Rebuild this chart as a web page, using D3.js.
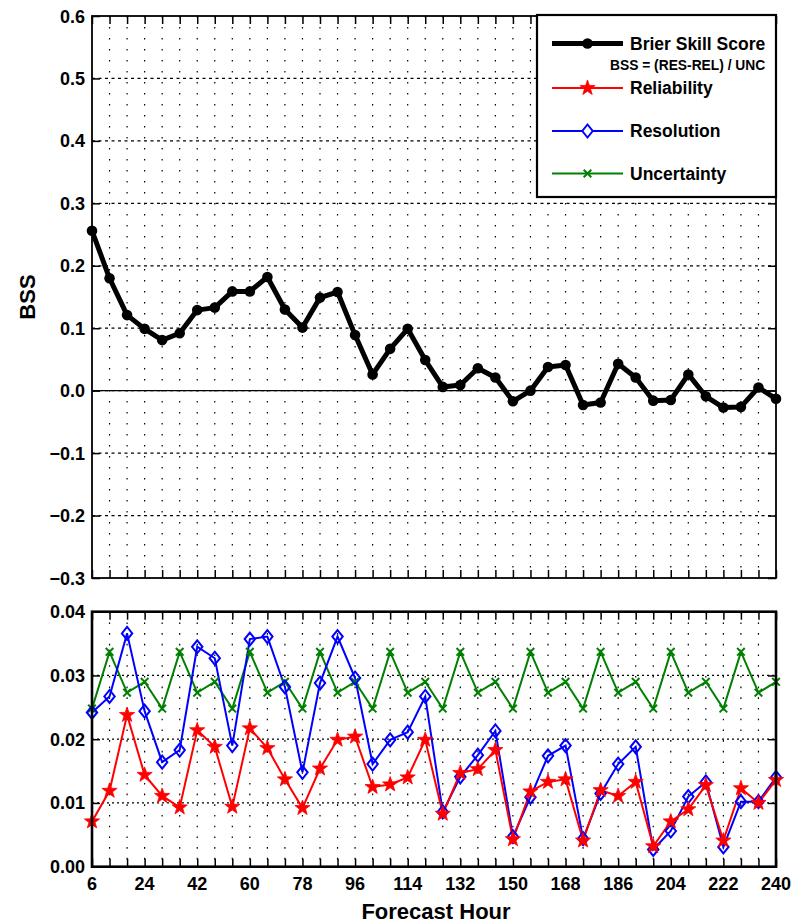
<!DOCTYPE html>
<html>
<head>
<meta charset="utf-8">
<script src="https://cdn.jsdelivr.net/npm/d3@7"></script>
<style>
  html, body { margin: 0; padding: 0; background: #fff; }
  svg { display: block; }
  text { font-family: "Liberation Sans", Arial, sans-serif; font-weight: bold; fill: #000; }
</style>
</head>
<body>
<svg id="chart" width="793" height="924"></svg>
<script>
// Forecast lead times (hours)
const hours = [6,12,18,24,30,36,42,48,54,60,66,72,78,84,90,96,102,108,114,120,
               126,132,138,144,150,156,162,168,174,180,186,192,198,204,210,216,222,228,234,240];
const xTickLabels = [6,24,42,60,78,96,114,132,150,168,186,204,222,240];
const bssTicks = [-0.3,-0.2,-0.1,0.0,0.1,0.2,0.3,0.4,0.5,0.6];
const compTicks = [0.00,0.01,0.02,0.03,0.04];

// Brier Skill Score
const bss = [0.256,0.180,0.121,0.099,0.081,0.092,0.129,0.133,0.159,0.159,
             0.182,0.130,0.101,0.149,0.158,0.089,0.026,0.067,0.099,0.049,
             0.006,0.009,0.036,0.021,-0.017,0.000,0.038,0.041,-0.023,-0.019,
             0.043,0.021,-0.016,-0.015,0.026,-0.009,-0.027,-0.026,0.005,-0.013];
// Reliability term
const reliability = [0.0071,0.0119,0.0238,0.0144,0.0111,0.0093,0.0214,0.0188,0.0094,0.0217,
                     0.0186,0.0137,0.0092,0.0154,0.0199,0.0204,0.0125,0.0129,0.0140,0.0199,
                     0.0083,0.0147,0.0153,0.0183,0.0043,0.0118,0.0133,0.0137,0.0041,0.0120,
                     0.0111,0.0133,0.0032,0.0071,0.0090,0.0128,0.0041,0.0123,0.0100,0.0136];
// Resolution term
const resolution = [0.0242,0.0267,0.0366,0.0244,0.0164,0.0183,0.0345,0.0327,0.0190,0.0357,
                    0.0361,0.0282,0.0148,0.0288,0.0361,0.0296,0.0161,0.0199,0.0211,0.0267,
                    0.0086,0.0141,0.0175,0.0213,0.0047,0.0109,0.0174,0.0190,0.0044,0.0115,
                    0.0161,0.0188,0.0027,0.0056,0.0110,0.0133,0.0031,0.0102,0.0102,0.0140];
// Uncertainty term
const uncertainty = [0.0248,0.0337,0.0273,0.0290,0.0248,0.0337,0.0273,0.0290,0.0248,0.0337,
                     0.0273,0.0290,0.0248,0.0337,0.0273,0.0290,0.0248,0.0337,0.0273,0.0290,
                     0.0248,0.0337,0.0273,0.0290,0.0248,0.0337,0.0273,0.0290,0.0248,0.0337,
                     0.0273,0.0290,0.0248,0.0337,0.0273,0.0290,0.0248,0.0337,0.0273,0.0290];

const svg = d3.select("#chart");

const x = d3.scaleLinear().domain([6, 240]).range([92, 776]);
const yTop = d3.scaleLinear().domain([-0.3, 0.6]).range([578, 16]);
const yBot = d3.scaleLinear().domain([0, 0.04]).range([866.7, 611.7]);

function star(r) {
  const pts = [];
  for (let i = 0; i < 10; i++) {
    const a = -Math.PI / 2 + i * Math.PI / 5;
    const rr = i % 2 === 0 ? r : r * 0.4;
    pts.push([rr * Math.cos(a), rr * Math.sin(a)]);
  }
  return "M" + pts.map(p => p.join(",")).join("L") + "Z";
}
const diamond = (w, h) => `M0,${-h}L${w},0L0,${h}L${-w},0Z`;
const cross = s => `M${-s},${-s}L${s},${s}M${-s},${s}L${s},${-s}`;

function panel(g, y, ticks, opts) {
  const [y0, y1] = y.range();
  // vertical dotted grid
  g.append("g").selectAll("line").data(hours.slice(1, -1)).join("line")
    .attr("x1", d => x(d)).attr("x2", d => x(d))
    .attr("y1", y1).attr("y2", y0)
    .attr("stroke", "#000").attr("stroke-width", 1.2)
    .attr("stroke-dasharray", opts.vdash);
  // horizontal grid
  g.append("g").selectAll("line").data(ticks.slice(1, -1)).join("line")
    .attr("x1", x.range()[0]).attr("x2", x.range()[1])
    .attr("y1", d => y(d)).attr("y2", d => y(d))
    .attr("stroke", "#000").attr("stroke-width", 1.2)
    .attr("stroke-dasharray", opts.hdash);
}

function frame(g, y, ticks, opts) {
  const [y0, y1] = y.range();
  const tl = 8;
  // inward ticks on all four sides
  g.append("g").call(d3.axisBottom(x).tickValues(hours).tickSize(tl).tickFormat(""))
    .attr("transform", `translate(0,${y1})`);
  g.append("g").call(d3.axisTop(x).tickValues(hours).tickSize(tl).tickFormat(""))
    .attr("transform", `translate(0,${y0})`);
  g.append("g").call(d3.axisRight(y).tickValues(ticks).tickSize(tl).tickFormat(""))
    .attr("transform", `translate(${x.range()[0]},0)`);
  g.append("g").call(d3.axisLeft(y).tickValues(ticks).tickSize(tl).tickFormat(""))
    .attr("transform", `translate(${x.range()[1]},0)`);
  g.selectAll(".domain").remove();
  g.selectAll(".tick line").attr("stroke", "#000").attr("stroke-width", 1.5);
  g.append("rect")
    .attr("x", x.range()[0]).attr("y", y1)
    .attr("width", x.range()[1] - x.range()[0]).attr("height", y0 - y1)
    .attr("fill", "none").attr("stroke", "#000").attr("stroke-width", opts.frameW);
  // y tick labels
  g.append("g").selectAll("text").data(ticks).join("text")
    .attr("x", 85).attr("y", d => y(d) + 6.5)
    .attr("text-anchor", "end").style("font-size", "18px")
    .text(d => d3.format(opts.fmt)(d));
}

// ---- Upper panel: Brier Skill Score ----
const gTop = svg.append("g");
panel(gTop, yTop, bssTicks, { vdash: "1.4,9.6", hdash: "3,3.5" });
gTop.append("line")
  .attr("x1", x(6)).attr("x2", x(240)).attr("y1", yTop(0)).attr("y2", yTop(0))
  .attr("stroke", "#000").attr("stroke-width", 1.3);
gTop.append("path").datum(bss)
  .attr("d", d3.line().x((d, i) => x(hours[i])).y(d => yTop(d)))
  .attr("fill", "none").attr("stroke", "#000").attr("stroke-width", 5).attr("stroke-linejoin", "round");
gTop.append("g").selectAll("circle").data(bss).join("circle")
  .attr("cx", (d, i) => x(hours[i])).attr("cy", d => yTop(d)).attr("r", 5.3)
  .attr("fill", "#000");
frame(gTop, yTop, bssTicks, { frameW: 1.8, fmt: ".1f" });

svg.append("text")
  .attr("transform", "translate(35,297) rotate(-90)")
  .attr("text-anchor", "middle").style("font-size", "22px").text("BSS");

// ---- Lower panel: components ----
const gBot = svg.append("g");
panel(gBot, yBot, compTicks, { vdash: "1.6,9.1", hdash: "2,3" });

const comps = [
  { data: uncertainty, color: "#008000", mark: "x" },
  { data: resolution, color: "#0000ff", mark: "d" },
  { data: reliability, color: "#ff0000", mark: "s" }
];
const lineB = d3.line().x((d, i) => x(hours[i])).y(d => yBot(d));
comps.forEach(c => {
  gBot.append("path").datum(c.data).attr("d", lineB)
    .attr("fill", "none").attr("stroke", c.color).attr("stroke-width", 2);
});
comps.forEach(c => {
  const gs = gBot.append("g").selectAll("path").data(c.data).join("path")
    .attr("transform", (d, i) => `translate(${x(hours[i])},${yBot(d)})`);
  if (c.mark === "x") gs.attr("d", cross(3.8)).attr("fill", "none").attr("stroke", c.color).attr("stroke-width", 2);
  if (c.mark === "d") gs.attr("d", diamond(5.2, 6.5)).attr("fill", "none").attr("stroke", c.color).attr("stroke-width", 2);
  if (c.mark === "s") gs.attr("d", star(8)).attr("fill", c.color).attr("stroke", c.color).attr("stroke-width", 0.8);
});
frame(gBot, yBot, compTicks, { frameW: 2.6, fmt: ".2f" });

// x tick labels and axis title
svg.append("g").selectAll("text").data(xTickLabels).join("text")
  .attr("x", d => x(d)).attr("y", 890)
  .attr("text-anchor", "middle").style("font-size", "18px").text(d => d);
svg.append("text").attr("x", 436).attr("y", 919)
  .attr("text-anchor", "middle").style("font-size", "22px").text("Forecast Hour");

// ---- Legend ----
const lg = svg.append("g");
lg.append("rect").attr("x", 537).attr("y", 15).attr("width", 239).attr("height", 182)
  .attr("fill", "#fff").attr("stroke", "#000").attr("stroke-width", 2.2);
const lx1 = 552, lx2 = 623, lm = 587.5, ltx = 630;
// BSS entry
lg.append("line").attr("x1", lx1).attr("x2", lx2).attr("y1", 43.5).attr("y2", 43.5)
  .attr("stroke", "#000").attr("stroke-width", 5);
lg.append("circle").attr("cx", lm).attr("cy", 43.5).attr("r", 5.3).attr("fill", "#000");
lg.append("text").attr("x", ltx).attr("y", 49.5).style("font-size", "17.5px").text("Brier Skill Score");
lg.append("text").attr("x", 610).attr("y", 70).style("font-size", "13.8px").text("BSS = (RES-REL) / UNC");
// component entries
const entries = [
  { label: "Reliability", color: "#ff0000", mark: "s", y: 88 },
  { label: "Resolution", color: "#0000ff", mark: "d", y: 131 },
  { label: "Uncertainty", color: "#008000", mark: "x", y: 173.5 }
];
entries.forEach(e => {
  lg.append("line").attr("x1", lx1).attr("x2", lx2).attr("y1", e.y).attr("y2", e.y)
    .attr("stroke", e.color).attr("stroke-width", 2);
  const m = lg.append("path").attr("transform", `translate(${lm},${e.y})`);
  if (e.mark === "s") m.attr("d", star(8)).attr("fill", e.color).attr("stroke", e.color).attr("stroke-width", 0.8);
  if (e.mark === "d") m.attr("d", diamond(5.2, 6.5)).attr("fill", "#fff").attr("stroke", e.color).attr("stroke-width", 2);
  if (e.mark === "x") m.attr("d", cross(3.8)).attr("fill", "none").attr("stroke", e.color).attr("stroke-width", 2);
  lg.append("text").attr("x", ltx).attr("y", e.y + 6).style("font-size", "17.5px").text(e.label);
});
</script>
</body>
</html>
